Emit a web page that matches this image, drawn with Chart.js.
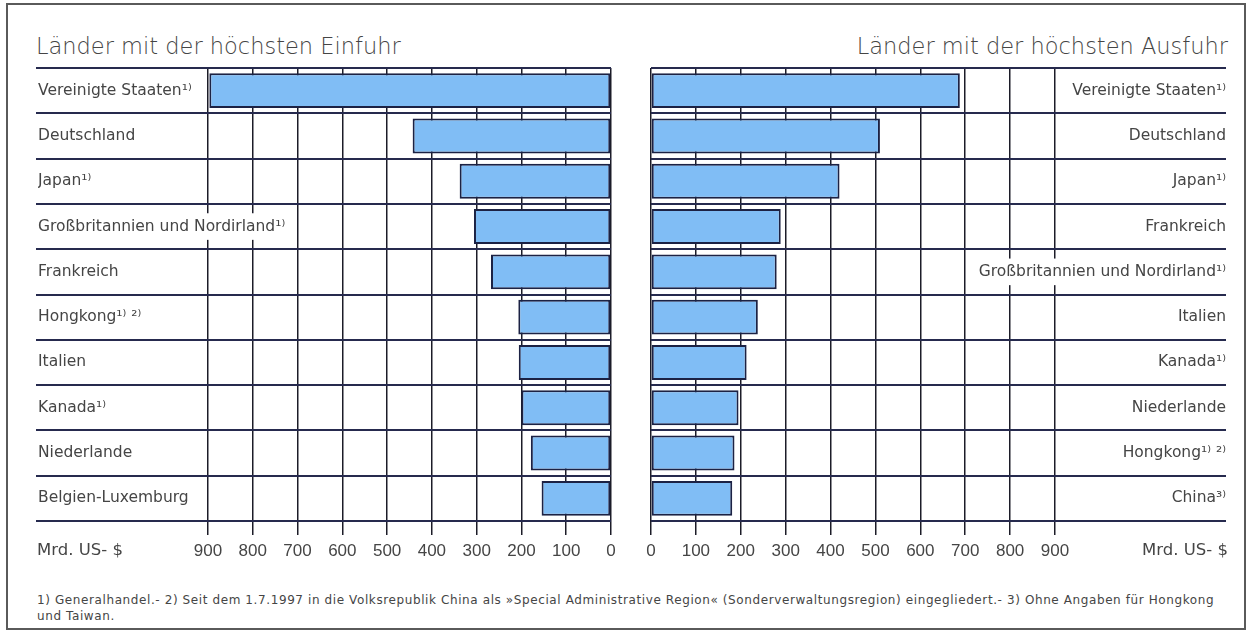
<!DOCTYPE html>
<html lang="de">
<head>
    <meta charset="UTF-8">
    <title>Länder mit der höchsten Einfuhr und Ausfuhr</title>
    <style>
        body {
            margin: 0;
            width: 1253px;
            height: 636px;
            background: #fff;
            font-family: "DejaVu Sans", sans-serif;
            color: #454545;
            position: relative;
            overflow: hidden;
        }
        #frame {
            position: absolute;
            left: 6px;
            top: 3px;
            width: 1236px;
            height: 623px;
            border: 2px solid #5a5a5a;
        }
        .title {
            position: absolute;
            top: 32px;
            font-size: 22.5px;
            font-weight: 300;
            line-height: 28px;
            white-space: nowrap;
        }
        .unit {
            position: absolute;
            top: 540px;
            font-size: 16.5px;
            line-height: 20px;
        }
        #note {
            position: absolute;
            left: 37px;
            top: 592px;
            font-size: 12px;
            letter-spacing: 0.6px;
            line-height: 16px;
            white-space: nowrap;
        }
        canvas {
            position: absolute;
            top: 0;
        }
    </style>
</head>
<body>
    <div id="frame"></div>
    <div class="title" style="left:36px">Länder mit der höchsten Einfuhr</div>
    <div class="title" style="right:25px">Länder mit der höchsten Ausfuhr</div>
    <canvas id="importChart" width="626" height="580" style="left:0"></canvas>
    <canvas id="exportChart" width="627" height="580" style="left:626px"></canvas>
    <div class="unit" style="left:37px">Mrd. US- $</div>
    <div class="unit" style="right:25px">Mrd. US- $</div>
    <div id="note">1) Generalhandel.- 2) Seit dem 1.7.1997 in die Volksrepublik China als »Special Administrative Region« (Sonderverwaltungsregion) eingegliedert.- 3) Ohne Angaben für Hongkong<br>und Taiwan.</div>

    <script src="https://cdn.jsdelivr.net/npm/chart.js"></script>
    <script>
        // Mrd. US-$
        const importLabels = ['Vereinigte Staaten¹⁾', 'Deutschland', 'Japan¹⁾', 'Großbritannien und Nordirland¹⁾', 'Frankreich',
            'Hongkong¹⁾ ²⁾', 'Italien', 'Kanada¹⁾', 'Niederlande', 'Belgien-Luxemburg'];
        const importValues = [897, 443, 338, 306, 268, 207, 206, 200, 179, 155];

        const exportLabels = ['Vereinigte Staaten¹⁾', 'Deutschland', 'Japan¹⁾', 'Frankreich', 'Großbritannien und Nordirland¹⁾',
            'Italien', 'Kanada¹⁾', 'Niederlande', 'Hongkong¹⁾ ²⁾', 'China³⁾'];
        const exportValues = [688, 510, 420, 289, 280, 238, 213, 195, 186, 181];

        const axisMax = 900;
        const axisStep = 100;

        const textColor = '#454545';
        const barFill = '#80bdf5';
        const barEdge = '#1c2244';
        const rowLine = '#262a4e';
        const colLine = '#1c1c28';

        // long country names run past the axis box into the plot,
        // so widen the box after layout (labels are clipped to it otherwise)
        const labelRoom = {
            id: 'labelRoom',
            afterLayout(chart, args, opts) {
                const y = chart.scales.y;
                if (y.position === 'left') y.right += opts.extra;
                else y.left -= opts.extra;
            }
        };
        const extra = 100;

        function makeChart(id, labels, values, side) {
            const left = side === 'left';
            return new Chart(document.getElementById(id), {
                type: 'bar',
                data: {
                    labels: labels,
                    datasets: [{
                        data: values,
                        backgroundColor: barFill,
                        borderColor: barEdge,
                        borderWidth: 2,
                        borderSkipped: false,
                        barPercentage: 0.77,
                        categoryPercentage: 1
                    }]
                },
                plugins: [labelRoom],
                options: {
                    indexAxis: 'y',
                    responsive: false,
                    animation: false,
                    layout: {
                        padding: left
                            ? { left: 38, right: 15, top: 68, bottom: 19 }
                            : { left: 25, right: 27, top: 68, bottom: 19 }
                    },
                    plugins: {
                        legend: { display: false },
                        tooltip: { enabled: false },
                        labelRoom: { extra: extra }
                    },
                    scales: {
                        x: {
                            reverse: left,
                            min: 0,
                            max: axisMax,
                            ticks: {
                                stepSize: axisStep,
                                color: textColor,
                                padding: 6,
                                font: { family: '"Liberation Sans", Arial, sans-serif', size: 17 }
                            },
                            grid: { color: colLine, lineWidth: 1.5, tickLength: 14 },
                            border: { display: false },
                            afterFit: s => { s.height = 40; }
                        },
                        y: {
                            position: side,
                            grid: { color: rowLine, lineWidth: 2, offset: true, tickLength: (left ? 172 : 171) + extra },
                            border: { display: false },
                            ticks: {
                                crossAlign: 'far',
                                color: textColor,
                                font: { family: '"DejaVu Sans", sans-serif', size: 15.5 },
                                showLabelBackdrop: true,
                                backdropColor: '#ffffff',
                                backdropPadding: { top: 4, bottom: 4, left: 2, right: 2 }
                            },
                            afterFit: s => { s.width = left ? 170 : 171; }
                        }
                    }
                }
            });
        }

        makeChart('importChart', importLabels, importValues, 'left');
        makeChart('exportChart', exportLabels, exportValues, 'right');
    </script>
</body>
</html>
